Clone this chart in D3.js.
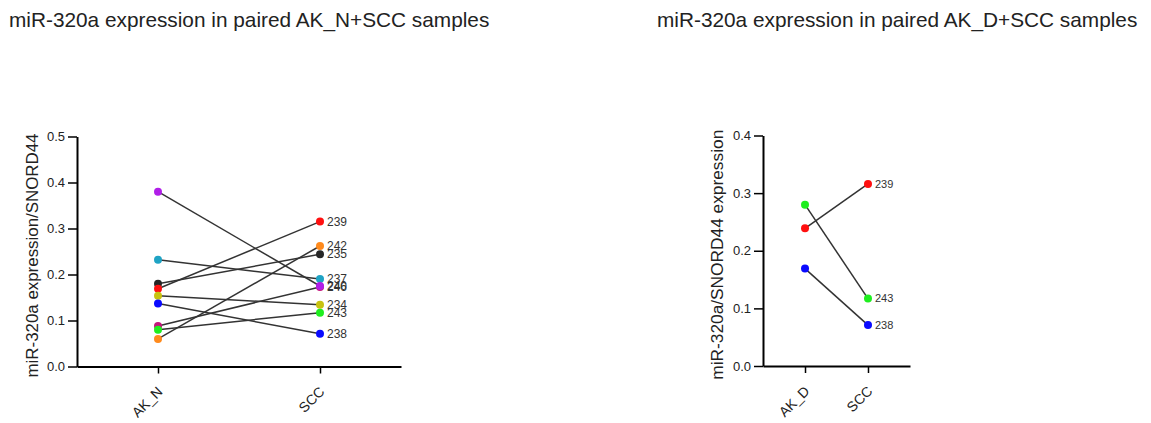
<!DOCTYPE html>
<html>
<head>
<meta charset="utf-8">
<script src="https://cdn.jsdelivr.net/npm/d3@7"></script>
<style>
  html, body { margin: 0; padding: 0; background: #fff; }
  svg { display: block; font-family: Arial, "Liberation Sans", sans-serif; }
</style>
</head>
<body>
<svg id="chart" width="1151" height="423"></svg>
<script>
// Paired samples: AK_N vs SCC
const groupsN = ["AK_N", "SCC"];
const pairIdsN = ["239", "242", "235", "237", "246", "240", "234", "243", "238"];
const akNValues = [0.169, 0.060, 0.180, 0.232, 0.088, 0.380, 0.154, 0.080, 0.137];
const sccNValues = [0.315, 0.262, 0.244, 0.190, 0.173, 0.175, 0.134, 0.117, 0.071];
const pairColorsN = ["#ff1010", "#ff8a1c", "#262626", "#1fa3c4", "#c4167c", "#b01ee8", "#c8c210", "#1fee1f", "#0a0aff"];
const yTicksN = [0, 0.1, 0.2, 0.3, 0.4, 0.5];

// Paired samples: AK_D vs SCC
const groupsD = ["AK_D", "SCC"];
const pairIdsD = ["239", "243", "238"];
const akDValues = [0.239, 0.280, 0.169];
const sccDValues = [0.316, 0.117, 0.071];
const pairColorsD = ["#ff1010", "#1fee1f", "#0a0aff"];
const yTicksD = [0, 0.1, 0.2, 0.3, 0.4];

const svg = d3.select("#chart");

function drawPanel(cfg) {
  const g = svg.append("g");
  const y = d3.scaleLinear().domain(cfg.yDomain).range([cfg.y0, cfg.y1]);
  const x = d3.scalePoint().domain(cfg.groups).range([cfg.x0, cfg.x1]).padding(cfg.pad);

  // title
  svg.append("text")
    .attr("x", cfg.titleX).attr("y", 27)
    .attr("font-size", 20.8).attr("fill", "#222")
    .text(cfg.title);

  // y axis
  const yAxis = d3.axisLeft(y).tickValues(cfg.yTicks).tickFormat(d3.format(".1f"))
    .tickSize(9).tickSizeOuter(0).tickPadding(3);
  const ya = g.append("g").attr("transform", `translate(${cfg.x0},0)`).call(yAxis);
  ya.select(".domain").attr("stroke", "#000").attr("stroke-width", 2);
  ya.selectAll(".tick line").attr("stroke", "#000").attr("stroke-width", 1.5);
  ya.selectAll(".tick text").attr("font-size", 13).attr("fill", "#222").attr("font-family", "Arial, 'Liberation Sans', sans-serif");

  // x axis
  const xAxis = d3.axisBottom(x).tickSize(7).tickSizeOuter(0).tickFormat(d => d);
  const xa = g.append("g").attr("transform", `translate(0,${cfg.y0})`).call(xAxis);
  xa.select(".domain").attr("stroke", "#000").attr("stroke-width", 2);
  xa.selectAll(".tick line").attr("stroke", "#000").attr("stroke-width", 1.5);
  xa.selectAll(".tick text")
    .attr("font-size", 14).attr("fill", "#222")
    .attr("font-family", "Arial, 'Liberation Sans', sans-serif")
    .attr("text-anchor", "end")
    .attr("dy", null)
    .attr("y", 0)
    .attr("transform", "translate(5,26) rotate(-45)");

  // y axis title
  svg.append("text")
    .attr("transform", `translate(${cfg.yTitleX},${(cfg.y0 + cfg.y1) / 2 + 4}) rotate(-90)`)
    .attr("text-anchor", "middle")
    .attr("font-size", 16).attr("fill", "#222")
    .attr("textLength", cfg.yTitleLen).attr("lengthAdjust", "spacingAndGlyphs")
    .text(cfg.yTitle);

  const pairs = cfg.ids.map((id, i) => ({ id, a: cfg.aVals[i], b: cfg.bVals[i], color: cfg.colors[i] }));

  // connecting lines
  g.selectAll("line.pair").data(pairs).enter().append("line")
    .attr("class", "pair")
    .attr("x1", x(cfg.groups[0])).attr("x2", x(cfg.groups[1]))
    .attr("y1", d => y(d.a)).attr("y2", d => y(d.b))
    .attr("stroke", "#333").attr("stroke-width", 1.5);

  // points (lower values on top in the first group)
  const aOrder = pairs.slice().sort((p, q) => q.a - p.a);
  g.selectAll("circle.a").data(aOrder).enter().append("circle")
    .attr("cx", x(cfg.groups[0])).attr("cy", d => y(d.a)).attr("r", 4)
    .attr("fill", d => d.color);
  g.selectAll("circle.b").data(pairs).enter().append("circle")
    .attr("cx", x(cfg.groups[1])).attr("cy", d => y(d.b)).attr("r", 4)
    .attr("fill", d => d.color);

  // sample labels
  g.selectAll("text.lab").data(pairs).enter().append("text")
    .attr("x", x(cfg.groups[1]) + 7).attr("y", d => y(d.b)).attr("dy", "0.35em")
    .attr("font-size", cfg.labelSize).attr("fill", "#333")
    .text(d => d.id);
}

drawPanel({
  title: "miR-320a expression in paired AK_N+SCC samples", titleX: 9,
  groups: groupsN, ids: pairIdsN, aVals: akNValues, bVals: sccNValues, colors: pairColorsN,
  yDomain: [0, 0.5], yTicks: yTicksN, y0: 366.5, y1: 136.5,
  x0: 77, x1: 401, pad: 0.5,
  yTitle: "miR-320a expression/SNORD44", yTitleX: 38, yTitleLen: 244, labelSize: 12
});

drawPanel({
  title: "miR-320a expression in paired AK_D+SCC samples", titleX: 657,
  groups: groupsD, ids: pairIdsD, aVals: akDValues, bVals: sccDValues, colors: pairColorsD,
  yDomain: [0, 0.4], yTicks: yTicksD, y0: 366, y1: 135.5,
  x0: 763, x1: 910, pad: 0.667,
  yTitle: "miR-320a/SNORD44 expression", yTitleX: 723, yTitleLen: 250, labelSize: 11
});
</script>
</body>
</html>
